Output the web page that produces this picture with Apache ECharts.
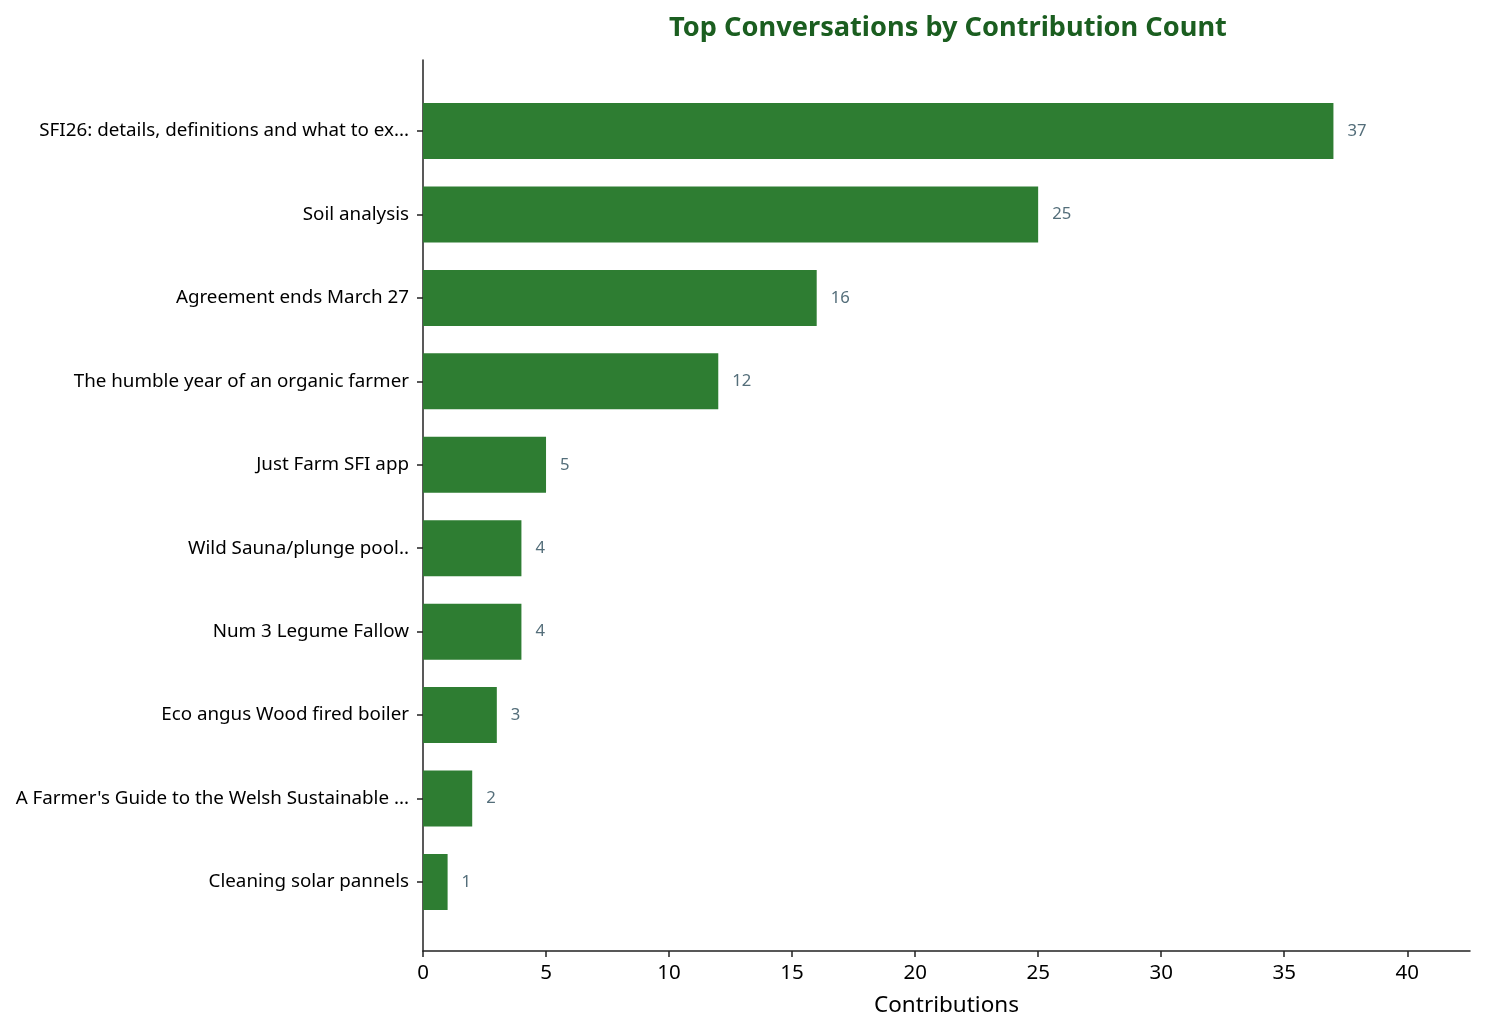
<!DOCTYPE html>
<html>

<head>
    <title>Top Conversations</title>
    <meta charset="utf-8">
    <script type="text/javascript" src="https://cdn.jsdelivr.net/npm/echarts@6/dist/echarts.min.js"></script>
    <style>
    html, body {
        margin: 0;
        padding: 0;
        background: #fff;
    }

    .main {
        width: 1485px;
        height: 1035px;
    }
    </style>
</head>

<body>
    <div id="main" class="main"></div>
    <script type="text/javascript">
    // conversation titles, top first
    const topics = [
        'SFI26: details, definitions and what to ex...',
        'Soil analysis',
        'Agreement ends March 27',
        'The humble year of an organic farmer',
        'Just Farm SFI app',
        'Wild Sauna/plunge pool..',
        'Num 3 Legume Fallow',
        'Eco angus Wood fired boiler',
        "A Farmer's Guide to the Welsh Sustainable ...",
        'Cleaning solar pannels'
    ];
    // contributions per conversation
    const contributions = [37, 25, 16, 12, 5, 4, 4, 3, 2, 1];
    const xTicks = [0, 5, 10, 15, 20, 25, 30, 35, 40];

    const FONT = '"Noto Sans", "DejaVu Sans", sans-serif';
    const AXIS_COLOR = '#222';
    const xMax = 42.55;

    const myChart = echarts.init(document.getElementById('main'));

    const option = {
        backgroundColor: '#fff',
        animation: false,
        textStyle: { fontFamily: FONT },
        title: {
            text: 'Top Conversations by Contribution Count',
            left: 943,
            top: 10,
            textAlign: 'center',
            textStyle: {
                fontFamily: FONT,
                fontSize: 27.2,
                fontWeight: 'bold',
                color: '#1b5e20'
            }
        },
        // grid 0 holds the frame (spines + x ticks), grid 1 holds the bars
        grid: [
            { left: 423, top: 60, width: 1047, height: 891 },
            { left: 423, top: 89.3, width: 1047, height: 834.4 }
        ],
        xAxis: [{
            gridIndex: 0,
            type: 'value',
            min: 0,
            max: xMax,
            interval: 5,
            splitLine: { show: false },
            axisLine: { show: true, lineStyle: { color: AXIS_COLOR, width: 1.5 } },
            axisTick: {
                show: true,
                length: 6,
                customValues: xTicks,
                lineStyle: { color: AXIS_COLOR, width: 1.5 }
            },
            axisLabel: {
                color: '#000',
                fontSize: 20.5,
                margin: 12,
                customValues: xTicks
            },
            name: 'Contributions',
            nameLocation: 'middle',
            nameGap: 43,
            nameTextStyle: { color: '#000', fontSize: 22.5, fontFamily: FONT }
        }, {
            gridIndex: 1,
            type: 'value',
            min: 0,
            max: xMax,
            show: false
        }],
        yAxis: [{
            gridIndex: 0,
            type: 'value',
            min: 0,
            max: 1,
            splitLine: { show: false },
            axisTick: { show: false },
            axisLabel: { show: false },
            axisLine: { show: true, lineStyle: { color: AXIS_COLOR, width: 1.5 } }
        }, {
            gridIndex: 1,
            type: 'category',
            inverse: true,
            data: topics,
            axisLine: { show: false },
            axisTick: {
                show: true,
                alignWithLabel: true,
                length: 6,
                lineStyle: { color: AXIS_COLOR, width: 1.5 }
            },
            axisLabel: {
                color: '#000',
                fontSize: 18.8,
                margin: 14,
                padding: [3, 0, 0, 0]
            }
        }],
        series: [{
            type: 'bar',
            xAxisIndex: 1,
            yAxisIndex: 1,
            data: contributions,
            barWidth: 56,
            itemStyle: { color: '#2e7d32' },
            label: {
                show: true,
                position: 'right',
                distance: 14,
                color: '#546e7a',
                fontSize: 16.7,
                fontFamily: FONT
            }
        }]
    };

    myChart.setOption(option);
    </script>
</body>

</html>
